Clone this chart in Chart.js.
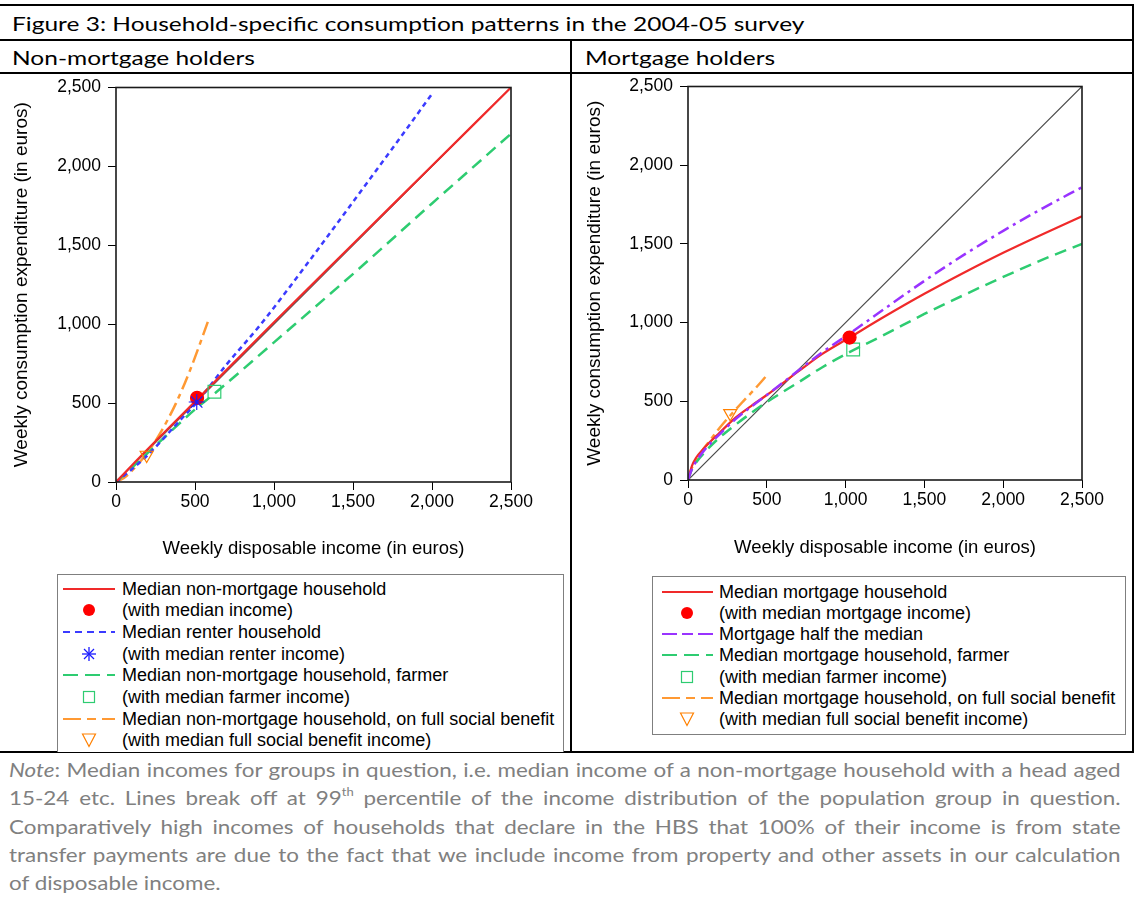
<!DOCTYPE html>
<html><head><meta charset="utf-8">
<script src="https://cdn.jsdelivr.net/npm/chart.js@4.4.1/dist/chart.umd.min.js"></script>
<style>
body{margin:0;width:1136px;height:899px;position:relative;background:#fff;overflow:hidden;font-family:'Liberation Sans',Arial,sans-serif;}
.hl{position:absolute;left:0;width:1134px;height:2px;background:#000;}
.vl{position:absolute;width:2px;background:#000;}
.hdr{position:absolute;font-family:Lato,'Open Sans',sans-serif;font-size:20px;color:#000;white-space:nowrap;height:32px;line-height:32px;transform:scaleX(1.225);transform-origin:0 0;}
.cv{position:absolute;}
.leg{position:absolute;border:1px solid #7f7f7f;box-sizing:border-box;background:#fff;}
.row{position:absolute;left:0;height:22px;font-size:18px;line-height:22px;white-space:nowrap;color:#000;}
.row svg{position:absolute;top:0;}
.row span{position:absolute;top:0;}
.note{position:absolute;left:9px;top:756px;width:942px;font-family:Lato,'Open Sans',sans-serif;font-size:19px;color:#808080;line-height:28.3px;transform:scaleX(1.18);transform-origin:0 0;}
.note div{text-align:justify;text-align-last:justify;white-space:nowrap;}
.note div.last{text-align-last:left;}
.note sup{font-size:11px;line-height:0;vertical-align:9px;}
</style>
</head><body>
<div class="hl" style="top:4px"></div>
<div class="hl" style="top:39px"></div>
<div class="hl" style="top:72px"></div>
<div class="hl" style="top:751px"></div>
<div class="vl" style="left:570px;top:39px;height:714px"></div>
<div class="vl" style="left:1132px;top:4px;height:749px"></div>
<div class="hdr" style="left:12px;top:7px">Figure 3: Household-specific consumption patterns in the 2004-05 survey</div>
<div class="hdr" style="left:12px;top:41px">Non-mortgage holders</div>
<div class="hdr" style="left:585px;top:41px">Mortgage holders</div>

<canvas id="c1" class="cv" width="565" height="500" style="left:0;top:70px;width:565px;height:500px"></canvas>
<canvas id="c2" class="cv" width="556" height="501" style="left:575px;top:69px;width:556px;height:501px"></canvas>

<div id="leg1" class="leg" style="left:57px;top:574px;width:507px;height:178px;border-bottom:none"></div>
<div id="leg2" class="leg" style="left:652px;top:576px;width:474px;height:159px"></div>

<div class="note">
<div><i>Note</i>: Median incomes for groups in question, i.e. median income of a non-mortgage household with a head aged</div>
<div>15-24 etc. Lines break off at 99<sup>th</sup> percentile of the income distribution of the population group in question.</div>
<div>Comparatively high incomes of households that declare in the HBS that 100% of their income is from state</div>
<div>transfer payments are due to the fact that we include income from property and other assets in our calculation</div>
<div class="last">of disposable income.</div>
</div>

<script>
// ---------- data ----------
const tickValues = [0, 500, 1000, 1500, 2000, 2500];
const tickLabels = ['0', '500', '1,000', '1,500', '2,000', '2,500'];

// 45-degree reference line (both panels)
const diagX = [0, 2500];
const diagY = [0, 2500];

// Left panel: non-mortgage holders
const nmMedianX  = [0, 100, 250, 513, 1000, 1500, 2000, 2500];
const nmMedianY  = [0, 105, 258, 522, 1012, 1508, 2004, 2500];
const nmRenterX  = [0, 100, 200, 300, 400, 511, 700, 912, 1200, 1461, 1750, 2008];
const nmRenterY  = [0, 80, 170, 275, 385, 505, 745, 994, 1370, 1722, 2115, 2470];
const nmFarmerX  = [0, 100, 250, 500, 623, 1000, 1503, 2000, 2500];
const nmFarmerY  = [0, 90, 230, 460, 560, 885, 1321, 1765, 2207];
const nmBenefitX = [0, 50, 100, 194, 279, 380, 469, 589];
const nmBenefitY = [0, 25, 70, 180, 308, 500, 709, 1036];
const nmMedianPt  = [513, 533];
const nmRenterPt  = [511, 507];
const nmFarmerPt  = [623, 572];
const nmBenefitPt = [194, 171];

// Right panel: mortgage holders
const mIncomeX  = [0, 25, 50, 100, 200, 300, 400, 500, 700, 850, 1025, 1250, 1500, 1750, 2000, 2250, 2500];
const mMedianY  = [0, 90, 140, 200, 300, 395, 470, 540, 690, 800, 905, 1040, 1183, 1317, 1444, 1562, 1675];
const mHalfY    = [0, 70, 115, 185, 290, 385, 465, 540, 695, 810, 930, 1090, 1265, 1430, 1583, 1726, 1860];
const mFarmerY  = [0, 70, 110, 170, 270, 350, 425, 495, 620, 715, 812, 925, 1055, 1175, 1290, 1400, 1500];
const mBenefitX = [0, 20, 50, 100, 150, 200, 268, 350, 430, 501];
const mBenefitY = [0, 65, 125, 200, 265, 330, 410, 500, 585, 666];
const mMedianPt  = [1025, 905];
const mFarmerPt  = [1048, 829];
const mBenefitPt = [268, 423];

// ---------- styles ----------
const FONT = "'Liberation Sans', Arial, sans-serif";
const C = {red:'#f02a2a', dot:'#ff0000', blue:'#3b3bff', star:'#1a1aff', green:'#2ecc71', orange:'#ff9933', tri:'#ff8000', purple:'#9933ff', diag:'#4a4a4a'};

function line(xs, ys, color, width, dash) {
  return {data: xs.map((x, i) => ({x, y: ys[i]})), showLine: true, borderColor: color, backgroundColor: color,
    borderWidth: width, borderDash: dash || [], pointRadius: 0, pointHoverRadius: 0, fill: false,
    cubicInterpolationMode: 'monotone'};
}
function marker(pt, style, color, radius, fill, rot) {
  return {data: [{x: pt[0], y: pt[1]}], showLine: false, pointStyle: style, pointRadius: radius, pointHoverRadius: radius,
    borderColor: color, backgroundColor: fill, pointBorderColor: color, pointBackgroundColor: fill,
    pointBorderWidth: 1.2, pointRotation: rot || 0};
}

const framePlugin = {id: 'frame', afterDatasetsDraw(chart) {
  const {ctx, chartArea: a} = chart;
  ctx.save(); ctx.strokeStyle = '#1a1a1a'; ctx.lineWidth = 1.6;
  ctx.strokeRect(a.left, a.top, a.right - a.left, a.bottom - a.top); ctx.restore();
}};

function axis(p, isX) {
  return {
    type: 'linear', min: 0, max: 2500,
    afterBuildTicks: s => { s.ticks = tickValues.map(v => ({value: v})); },
    afterFit: s => { if (isX) s.height = p.xHeight; else s.width = p.yWidth; },
    grid: {drawOnChartArea: false, drawTicks: true, tickLength: 8, color: '#000', tickColor: '#000', lineWidth: 1},
    border: {display: false},
    ticks: {padding: isX ? 2 : 7, color: '#000', font: {size: 17.5, family: FONT}, maxRotation: 0, autoSkip: false,
      callback: (v, i) => tickLabels[i]},
    title: {display: true, color: '#000', font: {size: isX ? 18.5 : 19, family: FONT},
      text: isX ? 'Weekly disposable income (in euros)' : 'Weekly consumption expenditure (in euros)',
      padding: isX ? {top: 0, bottom: p.xTitlePad} : {top: p.yTitlePad, bottom: 0}}
  };
}
function options(p) {
  return {
    responsive: false, animation: false, devicePixelRatio: 1,
    layout: {padding: {left: 0, top: p.top, right: p.right, bottom: 0}},
    plugins: {legend: {display: false}, tooltip: {enabled: false}},
    events: [],
    scales: {x: axis(p, true), y: axis(p, false)}
  };
}

new Chart(document.getElementById('c1'), {
  type: 'scatter',
  data: {datasets: [
    marker(nmRenterPt, 'star', C.star, 8, C.star),
    marker(nmMedianPt, 'circle', C.dot, 6.5, C.dot),
    marker(nmFarmerPt, 'rect', C.green, 9, 'rgba(0,0,0,0)'),
    marker(nmBenefitPt, 'triangle', C.tri, 7.5, 'rgba(0,0,0,0)', 180),
    line(nmMedianX, nmMedianY, C.red, 2.2),
    line(nmRenterX, nmRenterY, C.blue, 2.5, [5, 4]),
    line(nmFarmerX, nmFarmerY, C.green, 2.5, [12, 7]),
    line(nmBenefitX, nmBenefitY, C.orange, 2.5, [14, 5, 5, 5]),
    line(diagX, diagY, C.diag, 1.2)
  ]},
  options: options({top: 12, right: 54, yWidth: 116, xHeight: 88, yTitlePad: 10, xTitlePad: 10}),
  plugins: [framePlugin]
});

new Chart(document.getElementById('c2'), {
  type: 'scatter',
  data: {datasets: [
    marker(mMedianPt, 'circle', C.dot, 6.5, C.dot),
    marker(mFarmerPt, 'rect', C.green, 9, 'rgba(0,0,0,0)'),
    marker(mBenefitPt, 'triangle', C.tri, 7.5, 'rgba(0,0,0,0)', 180),
    line(mIncomeX, mHalfY, C.purple, 2.5, [12, 5, 3, 5]),
    line(mIncomeX, mMedianY, C.red, 2.2),
    line(mIncomeX, mFarmerY, C.green, 2.5, [12, 7]),
    line(mBenefitX, mBenefitY, C.orange, 2.5, [14, 5, 5, 5]),
    line(diagX, diagY, C.diag, 1.2)
  ]},
  options: options({top: 11, right: 49, yWidth: 113, xHeight: 90, yTitlePad: 8, xTitlePad: 11}),
  plugins: [framePlugin]
});

// ---------- legends ----------
const leg1Items = [
  ['line', C.red, '', 'Median non-mortgage household'],
  ['circle', C.dot, '', '(with median income)'],
  ['line', C.blue, '7,5', 'Median renter household'],
  ['star', C.star, '', '(with median renter income)'],
  ['line', C.green, '15,7', 'Median non-mortgage household, farmer'],
  ['rect', C.green, '', '(with median farmer income)'],
  ['line', C.orange, '18,6,9,6', 'Median non-mortgage household, on full social benefit'],
  ['tri', C.tri, '', '(with median full social benefit income)']
];
const leg2Items = [
  ['line', C.red, '', 'Median mortgage household'],
  ['circle', C.dot, '', '(with median mortgage income)'],
  ['line', C.purple, '15,5,11,5', 'Mortgage half the median'],
  ['line', C.green, '15,7', 'Median mortgage household, farmer'],
  ['rect', C.green, '', '(with median farmer income)'],
  ['line', C.orange, '18,6,9,6', 'Median mortgage household, on full social benefit'],
  ['tri', C.tri, '', '(with median full social benefit income)']
];
function swatch(kind, color, dash, sx, sw, mx) {
  if (kind === 'line')
    return `<svg style="left:${sx}px" width="${sw}" height="22"><line x1="0" y1="11" x2="${sw}" y2="11" stroke="${color}" stroke-width="2.2" ${dash ? `stroke-dasharray="${dash}"` : ''}/></svg>`;
  let inner = '';
  if (kind === 'circle') inner = `<circle cx="11" cy="11" r="6" fill="${color}"/>`;
  if (kind === 'star') inner = `<g stroke="${color}" stroke-width="1.3"><line x1="11" y1="4" x2="11" y2="18"/><line x1="4" y1="11" x2="18" y2="11"/><line x1="6" y1="6" x2="16" y2="16"/><line x1="16" y1="6" x2="6" y2="16"/></g>`;
  if (kind === 'rect') inner = `<rect x="5.5" y="5.5" width="11" height="11" fill="none" stroke="${color}" stroke-width="1.2"/>`;
  if (kind === 'tri') inner = `<polygon points="4.5,5 17.5,5 11,17.5" fill="none" stroke="${color}" stroke-width="1.2"/>`;
  return `<svg style="left:${mx - 11}px" width="22" height="22">${inner}</svg>`;
}
function buildLegend(id, items, firstTop, pitch, sx, sw, mx, tx) {
  const el = document.getElementById(id);
  el.innerHTML = items.map((it, i) =>
    `<div class="row" style="top:${(firstTop + i * pitch).toFixed(1)}px;width:100%">${swatch(it[0], it[1], it[2], sx, sw, mx)}<span style="left:${tx}px">${it[3]}</span></div>`
  ).join('');
}
buildLegend('leg1', leg1Items, 2.5, 21.7, 5, 52, 31, 64);
buildLegend('leg2', leg2Items, 3.5, 21.3, 9, 51, 34, 66);
</script>
</body></html>
